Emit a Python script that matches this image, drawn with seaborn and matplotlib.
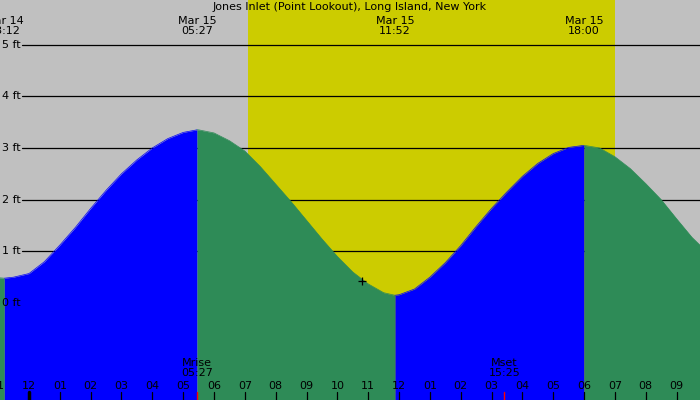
import numpy as np
import pandas as pd
import seaborn as sns
import matplotlib.pyplot as plt

# tide height (ft), hours since Mar 15 00:00
tide_hours = [-1.0, -0.8, -0.5, 0.0, 0.5, 1.0, 1.5, 2.0, 2.5, 3.0, 3.5, 4.0, 4.5, 5.0, 5.45,
              5.5, 6.0, 6.5, 7.0, 7.5, 8.0, 8.5, 9.0, 9.5, 10.0, 10.5, 11.0, 11.5, 11.867,
              12.0, 12.5, 13.0, 13.5, 14.0, 14.5, 15.0, 15.5, 16.0, 16.5, 17.0, 17.5, 18.0,
              18.5, 19.0, 19.5, 20.0, 20.5, 21.0, 21.5, 22.0]
tide_ft = [0.49, 0.48, 0.50, 0.57, 0.80, 1.12, 1.46, 1.83, 2.18, 2.50, 2.77, 3.00, 3.18, 3.30, 3.35,
           3.35, 3.29, 3.14, 2.94, 2.64, 2.30, 1.96, 1.60, 1.24, 0.90, 0.60, 0.37, 0.20, 0.15,
           0.16, 0.27, 0.50, 0.78, 1.11, 1.48, 1.83, 2.15, 2.45, 2.70, 2.89, 3.01, 3.05,
           3.00, 2.83, 2.60, 2.31, 2.00, 1.63, 1.27, 0.98]

extreme_hours = [-0.8, 5.45, 11.867, 18.0]
extreme_labels = ["Mar 14\n23:12", "Mar 15\n05:27", "Mar 15\n11:52", "Mar 15\n18:00"]

sunrise, sunset = 7.1, 19.0
moon_hours = [5.45, 15.417]
moon_labels = ["Mrise\n05:27", "Mset\n15:25"]

tick_hours = list(range(-1, 22))
tick_labels = ["11", "12", "01", "02", "03", "04", "05", "06", "07", "08", "09", "10", "11",
               "12", "01", "02", "03", "04", "05", "06", "07", "08", "09"]

ft_levels = [0, 1, 2, 3, 4, 5]
now_hour, now_ft = 10.8, 0.43

title = "Jones Inlet (Point Lookout), Long Island, New York"

GRAY = "#C0C0C0"
YELLOW = "#CCCC00"
BLUE = "#0000FF"
GREEN = "#2E8B57"

sns.set_style("white", {"axes.facecolor": GRAY})
plt.rcParams["text.color"] = "black"

df = pd.DataFrame({"t": tide_hours, "ft": tide_ft})

fig = plt.figure(figsize=(7, 4), dpi=100)
ax = fig.add_axes([0, 0, 1, 1])
ax.set_facecolor(GRAY)

x0, x1 = -0.94, 21.76
y0, y1 = -1.876, 5.861
ax.set_xlim(x0, x1)
ax.set_ylim(y0, y1)

ax.axvspan(sunrise, sunset, color=YELLOW, lw=0, zorder=0)

# ft grid lines, start a bit right of the labels
for lev in ft_levels[1:]:
    ax.axhline(lev, xmin=22 / 700, xmax=1, color="black", lw=0.9, zorder=1)

# rising = blue, falling = green
bounds = [-1.0] + extreme_hours + [22.0]
for i in range(len(bounds) - 1):
    seg = df[(df.t >= bounds[i]) & (df.t <= bounds[i + 1])]
    rising = seg.ft.iloc[-1] > seg.ft.iloc[0]
    col = BLUE if rising else GREEN
    ax.fill_between(seg.t, y0 - 1, seg.ft, color=col, lw=0, zorder=2)
    sns.lineplot(data=seg, x="t", y="ft", color=col, lw=0.5, ax=ax, zorder=2)

for lev in ft_levels:
    ax.text(0.003, lev, f"{lev} ft", transform=ax.get_yaxis_transform(),
            ha="left", va="center", fontsize=8, zorder=5)

trans = ax.get_xaxis_transform()
for h, lab in zip(extreme_hours, extreme_labels):
    ax.text(h, 1 - 25.5 / 400, lab, transform=trans, ha="center", va="center",
            fontsize=8, linespacing=1.0, zorder=5)

ax.text(0.5, 1 - 7.5 / 400, title, transform=ax.transAxes, ha="center", va="center",
        fontsize=8, zorder=5)

# hour labels and ticks along the bottom
for h, lab in zip(tick_hours, tick_labels):
    ax.text(h, 14 / 400, lab, transform=trans, ha="center", va="center", fontsize=8, zorder=5)
    ax.plot([h, h], [0, 8 / 400], transform=trans, color="black",
            lw=2.5 if h == 0 else 0.9, zorder=5, clip_on=False)

for h, lab in zip(moon_hours, moon_labels):
    ax.text(h, 32 / 400, lab, transform=trans, ha="center", va="center", fontsize=8,
            linespacing=1.0, zorder=5)
    ax.plot([h, h], [0, 8 / 400], transform=trans, color="red", lw=1.0, zorder=6)

ax.plot([now_hour], [now_ft], marker="+", color="black", ms=6, mew=0.9, zorder=6)

ax.set_xlabel("")
ax.set_ylabel("")
ax.set_xticks([])
ax.set_yticks([])
for s in ax.spines.values():
    s.set_visible(False)

fig.savefig("out.png", dpi=100)
